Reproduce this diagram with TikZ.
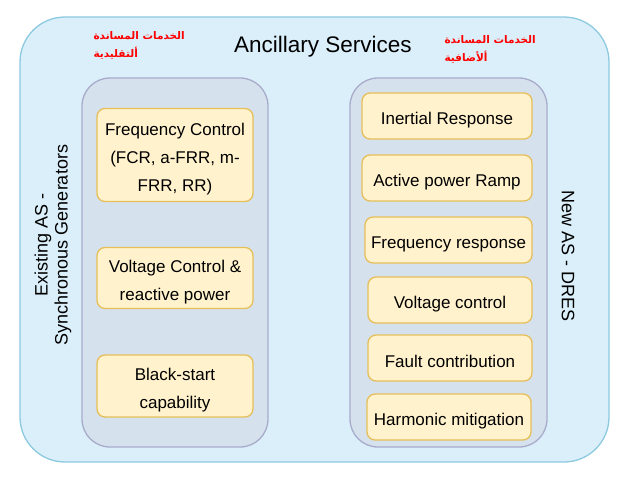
\documentclass[tikz,border=0pt]{standalone}
\usepackage{fontspec}
\setmainfont{Liberation Sans}
\newfontfamily\arabicfont[Script=Arabic]{DejaVu Sans}
\TeXXeTstate=1
\usetikzlibrary{positioning}

\definecolor{outerfill}{HTML}{DAEFF9}
\definecolor{outerline}{HTML}{8DCAE0}
\definecolor{panelfill}{HTML}{D5E2EE}
\definecolor{panelline}{HTML}{A9ABCB}
\definecolor{boxfill}{HTML}{FFF2CC}
\definecolor{boxline}{HTML}{E6BE5A}
\newcommand{\boxstrut}{\rule{0pt}{20pt}}

\begin{document}
\begin{tikzpicture}[x=1pt,y=-1pt,
    panel/.style={draw=panelline,fill=panelfill,line width=1.3pt,rounded corners=28pt,minimum width=#1,minimum height=369pt},
    service/.style={draw=boxline,fill=boxfill,line width=1.3pt,rounded corners=8pt,align=center,inner sep=0pt,
        font=\fontsize{17}{28}\selectfont},
    arabic/.style={text=red,align=left,anchor=north west,font=\arabicfont\bfseries\fontsize{10.5}{18}\selectfont}]
            \useasboundingbox (0,0) rectangle (624,480);

            \node[draw=outerline,fill=outerfill,line width=1.3pt,rounded corners=45pt,minimum width=589pt,minimum height=445pt] (Ancillary) at (314.5,239.5) {};
            \node[font=\fontsize{22.5}{26}\selectfont] (Title) at (323,47) {Ancillary Services};

            \node[arabic] (Classic) at (90,28) {\beginR الخدمات المساندة\endR\\ \beginR ألتقليدية\endR};
            \node[arabic] (Extra) at (441,32) {\beginR الخدمات المساندة\endR\\ \beginR ألأضافية\endR};

            \node[panel=186pt] (Existing Panel) at (175,262.5) {};
            \node[panel=197pt] (New Panel) at (448.5,262.5) {};

            \node[rotate=90,align=center,font=\fontsize{18}{20}\selectfont] (Existing) at (53,245) {Existing AS -\\Synchronous Generators};
            \node[rotate=-90,font=\fontsize{18}{20}\selectfont] (New) at (568,256) {New AS - DRES};

            % existing services
            \node[service,minimum width=156pt,minimum height=93pt] (Frequency Control) at (175,155) {\boxstrut Frequency Control\\(FCR, a-FRR, m-\\FRR, RR)};
            \node[service,minimum width=156pt,minimum height=61pt] (Voltage Control) at (175,278) {\boxstrut Voltage Control \&\\reactive power};
            \node[service,minimum width=156pt,minimum height=62pt] (Black Start) at (175,386) {\boxstrut Black-start\\capability};

            % new services
            \node[service,minimum width=170pt,minimum height=46pt] (Inertial) at (447,116) {\boxstrut Inertial Response};
            \node[service,minimum width=170pt,minimum height=46pt] (Ramp) at (447,178) {\boxstrut Active power Ramp};
            \node[service,minimum width=167pt,minimum height=46pt] (Frequency) at (448.5,240) {\boxstrut Frequency response};
            \node[service,minimum width=164pt,minimum height=46pt] (Voltage) at (450,300) {\boxstrut Voltage control};
            \node[service,minimum width=164pt,minimum height=46pt] (Fault) at (450,358) {\boxstrut Fault contribution};
            \node[service,minimum width=164pt,minimum height=46pt] (Harmonic) at (449,417) {\boxstrut Harmonic mitigation};
        \end{tikzpicture}
\end{document}
